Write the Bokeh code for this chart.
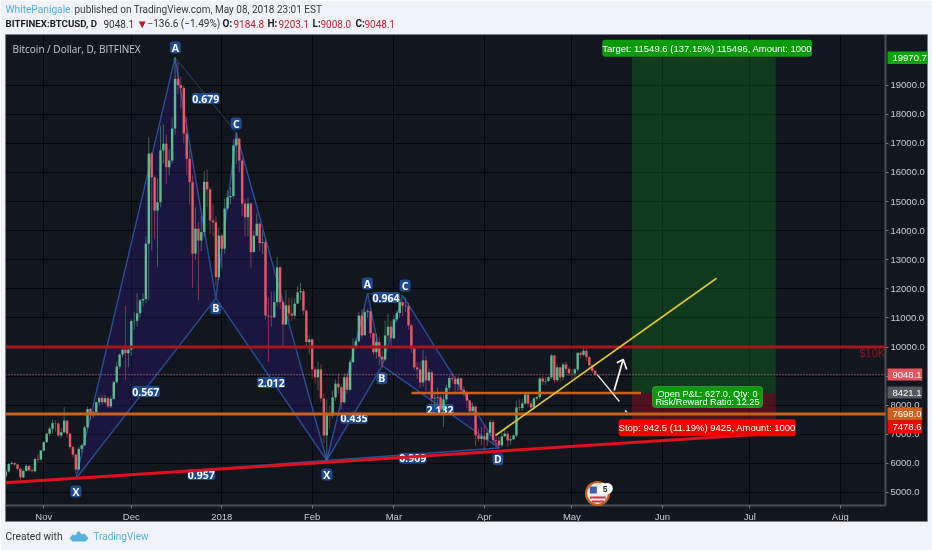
from bokeh.plotting import figure
from bokeh.models import Label, BoxAnnotation, Range1d, FixedTicker, ColumnDataSource
from bokeh.embed import file_html
from bokeh.resources import INLINE

# ---------- data (days counted from 1 Nov 2017) ----------
first_open = 5560
closes = [
 5720,5980,6010,5960,5810,5520,5740,5910,5760,5730,
 6150,6130,6440,6730,7020,7190,7380,7370,6960,7070,
 7470,7020,6560,6300,5790,6500,6620,7240,7870,7700,
 7760,8100,8250,8100,8240,7960,8220,8790,9330,9740,
 9910,9790,9910,10890,10900,11160,11600,11650,13550,16650,
 15830,14690,14980,16760,16990,16180,16410,17510,19220,19000,
 18900,17340,16470,15670,13210,14070,13660,13950,15680,15420,
 14350,14290,12400,13830,13380,14760,15150,15190,16930,17160,
 16410,14930,14460,14930,13260,13830,14240,13570,13600,11080,
 11050,11020,11540,12740,11540,10770,11430,11150,11080,11490,
 11880,11920,11250,10170,10260,9230,8960,9230,8230,6960,
 7710,7640,8270,8740,8620,8100,8960,8530,9480,10020,
 10200,11080,10400,11200,11230,10470,9820,10170,9670,9570,
 10400,10700,10300,10950,11170,11540,11420,11400,10740,9950,
 9300,9230,8780,9540,8850,9130,8230,8250,8270,7850,
 8200,8600,8930,8900,8720,8920,8530,8450,8160,7790,
 7950,6960,6840,6930,6820,7050,7420,6800,6780,6620,
 6930,7020,6790,6830,6960,7920,7900,8060,8370,8060,
 7920,8230,8280,8920,8810,8830,8960,9710,8860,9300,
 8960,9400,9250,9100,9090,9230,9800,9730,9870,9650,
 9370,9184.8,9048.1]
highs = [
 5780,6020,6080,6040,6000,5850,5790,5980,5950,5830,
 6200,6310,6470,6760,7050,7260,7500,7480,7410,7220,
 7930,7480,7040,6600,6340,6560,6680,7300,7950,7900,
 7800,8120,8300,8360,8350,8300,8310,8850,9500,9780,
 10000,11420,10000,10950,11200,11850,11650,11850,13800,17210,
 16700,15900,15800,17610,17650,17300,16800,17900,19970,19780,
 19300,19000,17900,16800,15900,14800,14300,14500,16050,16100,
 15500,14900,14500,14100,13900,15100,15400,15500,17150,17370,
 17200,16500,15100,15150,14980,14000,14600,14300,14000,13700,
 11700,11900,11900,13100,12800,11600,11950,11700,11700,11700,
 12100,12200,12000,11300,10400,10300,9320,9500,9400,8400,
 8200,8000,8500,8880,9100,8700,9100,9100,9560,10300,
 10300,11200,11300,11300,11300,11250,10500,10450,10350,9900,
 10900,11150,10900,11100,11250,11720,11560,11700,11520,10800,
 10000,9480,9500,9900,9700,9250,9200,8420,8600,8350,
 8350,8700,9000,9100,9000,9000,8950,8650,8500,8180,
 8100,8000,7200,7250,7300,7100,7500,7500,6900,6900,
 7100,7200,7100,6950,7000,8150,8200,8200,8450,8400,
 8150,8280,8320,8950,9000,8950,9000,9760,9730,9400,
 9320,9450,9500,9300,9250,9270,9820,9840,9990,9960,
 9680,9400,9203.1]
lows = [
 5500,5680,5950,5900,5750,5400,5480,5720,5720,5680,
 5700,6020,6100,6400,6700,6950,7040,7100,6900,6880,
 7030,6900,6500,6200,5650,5750,6400,6600,7200,7500,
 7560,7700,7980,8000,8060,7900,7900,8180,8750,9250,
 9650,8860,9300,9700,10600,10700,11000,11400,11500,11600,
 13310,13700,12740,14800,16300,15600,15900,16300,17300,18700,
 18200,17000,15900,14900,12040,13000,11600,13300,13800,14800,
 13900,13800,12100,12300,12700,13200,14700,14900,15100,16300,
 16000,14500,13800,13800,12700,13300,13800,13300,13200,10950,
 9500,10700,11000,11400,11300,10000,10800,10900,10900,10950,
 11600,11600,11100,10000,9750,8900,8750,8500,8100,6700,
 6000,7200,7550,8150,8400,7850,8050,8400,8500,9450,
 9950,10150,10300,10900,11000,10300,9720,9600,9350,9300,
 9500,10200,10000,10250,10850,11000,11050,11200,10600,9800,
 9200,8900,8600,8650,8500,8800,8050,7950,8000,7700,
 7250,8100,8500,8750,8400,8500,8450,8300,7900,7650,
 7800,6600,6750,6620,6450,6600,6950,6650,6600,6500,
 6550,6900,6580,6650,6800,6900,7800,7800,8000,7950,
 7800,7850,8150,8200,8700,8700,8800,8900,8750,8800,
 8800,8850,9100,9000,8900,8950,9150,9600,9680,9500,
 9250,9100,9008.0]
first_day = -13

pat1_days = [11, 45, 59, 66, 97]            # X A B C D
pat1_vals = [5470, 19950, 11670, 17370, 6100]
pat2_days = [97, 111, 116, 123, 156]
pat2_vals = [6100, 11840, 9360, 11770, 6530]

month_days = [0, 30, 61, 92, 120, 151, 181, 212, 242, 273]
month_names = ["Nov", "Dec", "2018", "Feb", "Mar", "Apr", "May", "Jun", "Jul", "Aug"]
price_ticks = [5000, 6000, 7000, 8000, 9000, 10000, 11000, 12000, 13000, 14000,
               15000, 16000, 17000, 18000, 19000]

last_price = 9048.1
resistance = 10000
support_orange = 7698.0
entry_level = 8421.1
target_level = 19970.7
stop_level = 7478.6
trend_red_days = [-13.1, 244.6]
trend_red_vals = [5330, 6990]
trend_yel_days = [154.8, 230.6]
trend_yel_vals = [6958, 12365]
entry_days = [126, 204.7]
position_days = [201.6, 250.9]
arrow_down_days = [189.7, 197.3]
arrow_down_vals = [9050, 8127]
arrow_down2_days = [199.2, 199.9]
arrow_down2_vals = [7815, 7765]
arrow_up_days = [195.5, 198.6]
arrow_up_vals = [8505, 9570]
arrow_head_days = [196.4, 198.6, 199.8]
arrow_head_vals = [9457, 9570, 9227]

# ---------- pixel helpers for text placement ----------
X0, DX = 43.3, 2.921
Y0, DY = 84.7, 0.02909
def xd(px): return (px - X0) / DX
def yd(py): return 19000 - (py - Y0) / DY

BG = "#f0f3fa"
UP, DOWN = "#5cbb90", "#e95a69"
BLUE = "#1f4a8e"
ORANGE = "#c9601c"
PANEL = "#12161e"
HEAD = "Roboto"

# ---------- the chart: canvas starts at page (5,34), frame runs to (886,505) ----------
p = figure(width=922, height=490, output_backend="svg", toolbar_location=None,
           x_range=Range1d(xd(5), xd(886)), y_range=Range1d(yd(505), yd(34)),
           y_axis_location="right", min_border_left=0, min_border_right=41,
           min_border_top=0, min_border_bottom=19,
           background_fill_color=PANEL, border_fill_color=PANEL,
           outline_line_color=None,
           styles={"position": "fixed", "left": "5px", "top": "34px"})

p.xaxis.ticker = FixedTicker(ticks=month_days)
p.xaxis.major_label_overrides = dict(zip(month_days, month_names))
p.yaxis.ticker = FixedTicker(ticks=price_ticks)
p.yaxis.major_label_overrides = {v: f"{v:.1f}" for v in price_ticks}
for ax in (p.xaxis[0], p.yaxis[0]):
    ax.axis_line_color = "#4b4f57"
    ax.axis_line_width = 2
    ax.major_tick_line_color = "#70747c"
    ax.major_tick_out = 3
    ax.major_tick_in = 0
    ax.minor_tick_line_color = None
    ax.major_label_text_color = "#c8cbd0"
    ax.major_label_text_font = "Liberation Sans"
    ax.major_label_text_font_size = "9.5px"
    ax.major_label_standoff = 2
p.xgrid.ticker = FixedTicker(ticks=month_days)
p.ygrid.ticker = FixedTicker(ticks=price_ticks)
p.grid.grid_line_color = "#05060a"
p.grid.grid_line_alpha = 1
p.grid.grid_line_width = 1

# position tool
p.quad(left=position_days[0], right=position_days[1], bottom=entry_level, top=target_level,
       fill_color="#118a22", fill_alpha=0.3, line_color=None)
p.quad(left=position_days[0], right=position_days[1], bottom=stop_level, top=entry_level,
       fill_color="#d01025", fill_alpha=0.32, line_color=None)

# harmonic patterns
for d, v in ((pat1_days, pat1_vals), (pat2_days, pat2_vals)):
    X, A, B, C, D = list(zip(d, v))
    for tri in ((X, A, B), (B, C, D)):
        p.patch([q[0] for q in tri], [q[1] for q in tri], fill_color="#2f1a80",
                fill_alpha=0.32, line_color=None)
    for s, e in ((X, A), (A, B), (B, X), (B, C), (C, D), (B, D), (X, D)):
        p.line([s[0], e[0]], [s[1], e[1]], line_color="#2a4f96", line_width=1.4)
    p.line([A[0], C[0]], [A[1], C[1]], line_color="#2a4f96", line_width=0.9, line_alpha=0.8)

# candles
n = len(closes)
days = [first_day + i for i in range(n)]
opens = [first_open] + closes[:-1]
src = ColumnDataSource(dict(
    day=days, o=opens, c=closes, h=highs, l=lows,
    top=[max(a, b) for a, b in zip(opens, closes)],
    bot=[min(a, b) for a, b in zip(opens, closes)],
    color=[UP if b >= a else DOWN for a, b in zip(opens, closes)]))
p.segment("day", "h", "day", "l", source=src, line_color="color", line_width=1,
          line_alpha=0.5, level="annotation")
p.vbar("day", width=0.82, top="top", bottom="bot", source=src, fill_color="color",
       line_color=None, level="annotation")

# last price
p.line([xd(5), xd(886)], [last_price, last_price], line_color="#d97a92", line_width=1,
       line_dash="1 2", level="overlay")
# horizontals and trend lines
p.line([xd(5), xd(886)], [resistance, resistance], line_color="#a91518", line_width=3, level="overlay")
p.line([xd(5), xd(886)], [support_orange, support_orange], line_color=ORANGE, line_width=3, level="overlay")
p.line(entry_days, [entry_level, entry_level], line_color=ORANGE, line_width=2.4, level="overlay")
p.line(trend_red_days, trend_red_vals, line_color="#e2101e", line_width=3, level="overlay")
p.line(trend_yel_days, trend_yel_vals, line_color="#d9c63c", line_width=1.7, level="overlay")
p.line(arrow_down_days, arrow_down_vals, line_color="#e8e8e8", line_width=1.4, level="overlay")
p.line(arrow_down2_days, arrow_down2_vals, line_color="#e8e8e8", line_width=1.4, level="overlay")
p.line(arrow_up_days, arrow_up_vals, line_color="#ffffff", line_width=1.7, level="overlay")
p.line(arrow_head_days, arrow_head_vals, line_color="#ffffff", line_width=1.7, level="overlay")

# events icon
p.scatter([xd(597.7)], [yd(493)], size=23, marker="circle", fill_color="#e9e9f2",
          line_color="#c2611f", line_width=2.2, level="overlay")
p.quad(left=xd(590), right=xd(597), top=yd(486), bottom=yd(493), fill_color="#3f5ea8",
       line_color=None, level="overlay")
p.quad(left=xd(590), right=xd(606), top=yd(496), bottom=yd(498), fill_color="#d8353f",
       line_color=None, level="overlay")
p.quad(left=xd(592), right=xd(604), top=yd(500), bottom=yd(502), fill_color="#d8353f",
       line_color=None, level="overlay")
p.scatter([xd(603)], [yd(488)], size=11, marker="circle", fill_color="#ffffff",
          line_color=None, level="overlay")
p.scatter([xd(607.5)], [yd(488)], size=11, marker="circle", fill_color="#ffffff",
          line_color=None, level="overlay")


def lab(fig, x, y, text, size=11, color="#333333", font="Open Sans", style="normal", align="left",
        bg=None, level="annotation", pad=0, radius=0):
    kw = {}
    if bg:
        kw.update(background_fill_color=bg, background_fill_alpha=1, padding=pad, border_radius=radius)
    fig.add_layout(Label(x=x, y=y, text=text, text_font=font, text_font_size=f"{size}px",
                         text_color=color, text_font_style=style, text_align=align,
                         text_baseline="middle", level=level, **kw))


# pattern labels (underneath the lines and candles)
for px, py, t in [(175, 47, "A"), (236, 123, "C"), (205.5, 98, "0.679"), (75.5, 491, "X"),
                  (215.5, 307.7, "B"), (145.5, 391, "0.567"), (271, 382, "2.012"),
                  (201, 474, "0.957"), (326.7, 474, "X"), (367.3, 283, "A"), (405, 285, "C"),
                  (386, 297, "0.964"), (381.7, 377.7, "B"), (354, 417.7, "0.435"),
                  (412.7, 457.7, "0.909"), (440, 409, "2.132"), (498, 458.7, "D")]:
    half_w = 5.5 if len(t) == 1 else 14
    half_h = 6 if len(t) == 1 else 5.5
    p.add_layout(BoxAnnotation(left=xd(px - half_w), right=xd(px + half_w),
                               top=yd(py - half_h), bottom=yd(py + half_h),
                               fill_color=BLUE, fill_alpha=1, line_color=None,
                               border_radius=3, level="guide"))
    lab(p, xd(px), yd(py), t, 10.5, "#ffffff", style="bold", align="center", level="guide")

# ---------- overlay: full window, coordinates are page pixels ----------
o = figure(width=932, height=550, output_backend="svg", toolbar_location=None,
           x_range=Range1d(0, 932), y_range=Range1d(550, 0), x_axis_type=None, y_axis_type=None,
           min_border=0, background_fill_alpha=0, border_fill_alpha=0, outline_line_color=None,
           styles={"position": "fixed", "left": "0px", "top": "0px"})
o.grid.visible = False

# page strips around the chart
o.quad(left=[0, 0, 0, 927], right=[932, 932, 5, 932], top=[0, 521, 34, 34], bottom=[34, 550, 521, 521],
       fill_color=BG, line_color=None)
o.quad(left=[5], right=[927], top=[34], bottom=[521], fill_alpha=0, line_color="#7d8087", line_width=1)

# header
lab(o, 5, 9, "WhitePanigale", 10.2, "#55aee0", HEAD)
lab(o, 74, 9, "published on TradingView.com, May 08, 2018 23:01 EST", 10, "#3a3a3a", HEAD)
lab(o, 5, 23, "BITFINEX:BTCUSD, D", 9.7, "#1c1c1c", HEAD, style="bold")
lab(o, 103, 23, "9048.1", 10, "#333333", HEAD)
lab(o, 136, 23, "\u25bc", 11.5, "#c1121f")
lab(o, 147, 23, "\u2212136.6 (\u22121.49%)", 10, "#333333", HEAD)
lab(o, 222, 23, "O:", 10, "#1c1c1c", HEAD, style="bold")
lab(o, 233, 23, "9184.8", 10, "#c1272d", HEAD)
lab(o, 267, 23, "H:", 10, "#1c1c1c", HEAD, style="bold")
lab(o, 278, 23, "9203.1", 10, "#c1272d", HEAD)
lab(o, 312, 23, "L:", 10, "#1c1c1c", HEAD, style="bold")
lab(o, 320, 23, "9008.0", 10, "#c1272d", HEAD)
lab(o, 355, 23, "C:", 10, "#1c1c1c", HEAD, style="bold")
lab(o, 364, 23, "9048.1", 10, "#c1272d", HEAD)
lab(o, 12, 48, "Bitcoin / Dollar, D, BITFINEX", 10, "#c9ccd1")

# footer
lab(o, 5, 536, "Created with", 10.2, "#333333", HEAD)
lab(o, 93, 536, "TradingView", 10, "#5ab2de", HEAD)
o.patch([69, 72, 75, 77, 79, 81, 83, 85, 88, 85, 72, 69],
        [538, 534, 535, 531, 531, 534, 533, 534, 538, 541, 541, 538],
        fill_color="#5ab2de", line_color=None)

# position tool labels
lab(o, 706.7, 47.7, "Target: 11549.6 (137.15%) 115496, Amount: 1000", 9.5, "#ffffff", font="Liberation Sans",
    align="center", bg="#0a9a0a", pad=(0, 3), radius=3)
lab(o, 706.7, 427.3, "Stop: 942.5 (11.19%) 9425, Amount: 1000", 9.5, "#ffffff", font="Liberation Sans",
    align="center", bg="#f50000", pad=(0, 3), radius=3)
o.add_layout(BoxAnnotation(left=652, right=762, top=386, bottom=407, fill_color="#0a9a0a", fill_alpha=1,
                           line_color="#a9dca9", line_width=1, border_radius=3, level="overlay"))
lab(o, 707, 393, "Open P&L: 627.0, Qty: 0", 9.2, "#ffffff", font="Liberation Sans", align="center", level="overlay")
lab(o, 707, 401, "Risk/Reward Ratio: 12.25", 9.2, "#ffffff", font="Liberation Sans", align="center", level="overlay")
lab(o, 859, 352.5, "$10K", 11, "#8f1d1d", font="Liberation Sans")
lab(o, 604.5, 488, "5", 8.5, "#333333", font="Liberation Sans", style="bold", align="center")

# price tags
tag_tops = [51, 368, 386, 407, 420]
tag_bots = [63.5, 380, 398, 420, 433]
tag_rights = [927, 921.7, 921.7, 921.7, 921.7]
tag_texts = ["19970.7", "9048.1", "8421.1", "7698.0", "7478.6"]
tag_colors = ["#0aa50a", "#e9525f", "#55585c", "#d2601a", "#f50000"]
o.quad(left=[887] * 5, right=tag_rights, top=tag_tops, bottom=tag_bots, fill_color=tag_colors, line_color=None)
for t, b, txt in zip(tag_tops, tag_bots, tag_texts):
    lab(o, 892, (t + b) / 2, txt, 9.5, "#ffffff", font="Liberation Sans")

open("out.html", "w").write(file_html([p, o], INLINE))
